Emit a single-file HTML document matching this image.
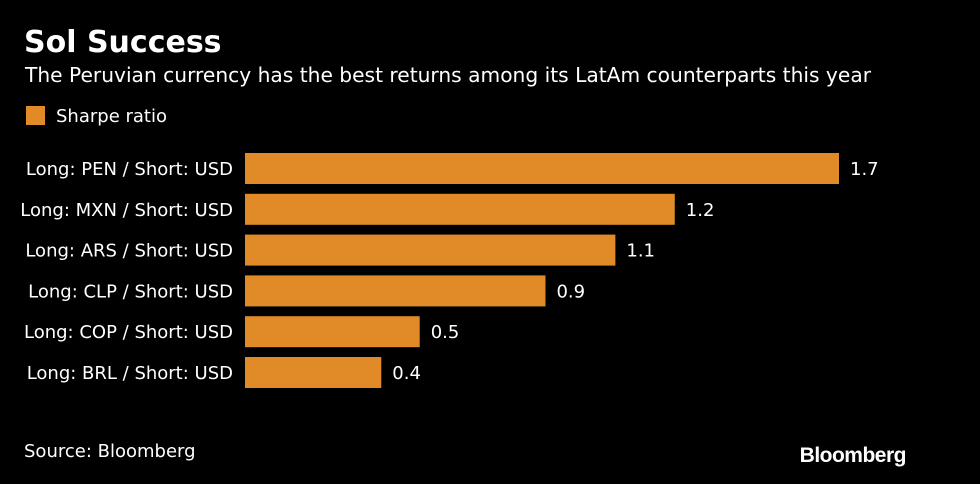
<!DOCTYPE html>
<html><head><meta charset="utf-8"><style>
body{margin:0;background:#000;width:980px;height:479px;overflow:hidden;font-family:"Liberation Sans","DejaVu Sans",sans-serif;color:#fff}
</style></head><body>
<svg width="980" height="479" xmlns="http://www.w3.org/2000/svg">
<rect width="980" height="479" fill="#000"/>
<text x="24" y="52" font-size="30" font-weight="bold" fill="#fff" font-family="DejaVu Sans, sans-serif">Sol Success</text>
<text x="25" y="82" font-size="20" fill="#fff" textLength="846" lengthAdjust="spacingAndGlyphs" font-family="DejaVu Sans, sans-serif">The Peruvian currency has the best returns among its LatAm counterparts this year</text>
<rect x="26" y="106" width="19" height="19" fill="#e08b27"/>
<text x="56" y="122" font-size="18" fill="#fff" font-family="DejaVu Sans, sans-serif">Sharpe ratio</text>
<g id="bars"></g>
<text x="24" y="457" font-size="18" fill="#fff" font-family="DejaVu Sans, sans-serif">Source: Bloomberg</text>
<text x="906" y="462" font-size="21" font-weight="bold" fill="#fff" text-anchor="end" letter-spacing="-0.5">Bloomberg</text>
</svg>
<script>
const categories=["Long: PEN / Short: USD","Long: MXN / Short: USD","Long: ARS / Short: USD","Long: CLP / Short: USD","Long: COP / Short: USD","Long: BRL / Short: USD"];
const values=[1.70,1.23,1.06,0.86,0.50,0.39];
const valueLabels=["1.7","1.2","1.1","0.9","0.5","0.4"];
const x0=245,scale=594/1.7;
const xPos=v=>x0+v*scale;
const yPos=i=>153+i*40.8;
const g=document.getElementById('bars');
const NS="http://www.w3.org/2000/svg";
categories.forEach((c,i)=>{
  const r=document.createElementNS(NS,'rect');
  r.setAttribute('x',x0);r.setAttribute('y',yPos(i));
  r.setAttribute('width',xPos(values[i])-x0);r.setAttribute('height',31);
  r.setAttribute('fill','#e08b27');
  
  
  g.appendChild(r);
  const t=document.createElementNS(NS,'text');
  t.setAttribute('x',233);t.setAttribute('y',yPos(i)+22);
  t.setAttribute('text-anchor','end');t.setAttribute('font-size','18');
  t.setAttribute('fill','#fff');t.setAttribute('font-family','DejaVu Sans, sans-serif');
  t.textContent=c;
  
  
  g.appendChild(t);
  const v=document.createElementNS(NS,'text');
  v.setAttribute('x',xPos(values[i])+11);v.setAttribute('y',yPos(i)+22);
  v.setAttribute('font-size','18');v.setAttribute('fill','#fff');
  v.setAttribute('font-family','DejaVu Sans, sans-serif');
  v.textContent=valueLabels[i];
  
  
  g.appendChild(v);
});
</script>
</body></html>
